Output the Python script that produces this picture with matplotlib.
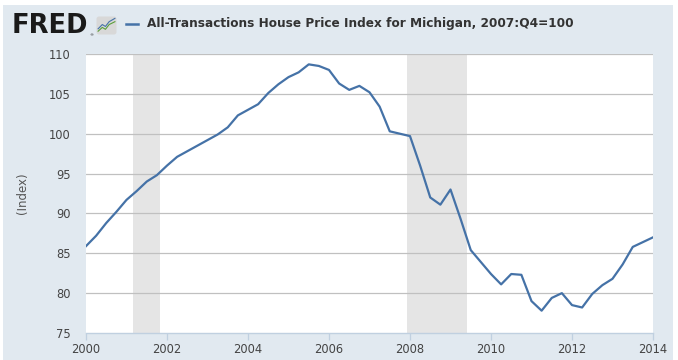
import matplotlib
matplotlib.use("Agg")
import matplotlib.pyplot as plt
from matplotlib.patches import Rectangle, FancyBboxPatch

# quarterly index values, 2000:Q1 .. 2014:Q1
start_year = 2000
values = [85.9, 87.2, 88.8, 90.2,
          91.7, 92.8, 94.0, 94.8,
          96.0, 97.1, 97.8, 98.5,
          99.2, 99.9, 100.8, 102.3,
          103.0, 103.7, 105.1, 106.2,
          107.1, 107.7, 108.7, 108.5,
          108.0, 106.3, 105.5, 106.0,
          105.2, 103.4, 100.3, 100.0,
          99.7, 96.0, 92.0, 91.1,
          93.0, 89.3, 85.4, 83.9,
          82.4, 81.1, 82.4, 82.3,
          79.0, 77.8, 79.4, 80.0,
          78.5, 78.2, 79.9, 81.0,
          81.8, 83.6, 85.8, 86.4,
          87.0]
dates = [start_year + i / 4.0 for i in range(len(values))]

# recessions (decimal years): 2001-03..2001-11, 2007-12..2009-06
recessions = [(2001 + 2/12, 2001 + 10/12), (2007 + 11/12, 2009 + 5/12)]

xticks = [2000, 2002, 2004, 2006, 2008, 2010, 2012, 2014]
yticks = [75, 80, 85, 90, 95, 100, 105, 110]

title = "All-Transactions House Price Index for Michigan, 2007:Q4=100"
ylabel = "(Index)"

bg = "#e1e9f0"
line_col = "#4572a7"

W, H = 678, 360
fig = plt.figure(figsize=(W / 100, H / 100), dpi=100)
fig.patch.set_facecolor("white")
fig.patches.append(Rectangle((3 / W, 0), 670 / W, 355 / H, transform=fig.transFigure,
                             facecolor=bg, edgecolor="none", zorder=-5))

ax = fig.add_axes([86 / W, 1 - 333 / H, (653 - 86) / W, (333 - 54) / H])
ax.set_facecolor("white")

for a, b in recessions:
    ax.axvspan(a, b, color="#e5e5e5", lw=0, zorder=1)

for y in yticks[1:]:
    ax.axhline(y, color="#c0c0c0", lw=0.9, zorder=2)

ax.plot(dates, values, color=line_col, lw=1.6, zorder=3, solid_joinstyle="round")

ax.set_xlim(2000, 2014)
ax.set_ylim(75, 110)
ax.set_xticks(xticks)
ax.set_yticks(yticks)
ax.tick_params(axis="y", length=0, pad=11, labelsize=8.3, labelcolor="#444444")
ax.tick_params(axis="x", length=5, width=0.9, color="#c0d0e0", direction="out",
               pad=2, labelsize=8.3, labelcolor="#444444")
for s in ["left", "right", "top"]:
    ax.spines[s].set_visible(False)
ax.spines["bottom"].set_color("#c0d0e0")
ax.spines["bottom"].set_linewidth(1.0)

fig.text(22 / W, 1 - 193 / H, ylabel, rotation=90, ha="center", va="center",
         fontsize=8.5, color="#555555")

# header: FRED logo, icon, legend
fig.text(12 / W, 1 - 26 / H, "FRED", fontsize=18.5, fontweight="heavy",
         family=["DejaVu Sans"], color="#1a1a1a",
         ha="left", va="center")
fig.text(89 / W, 1 - 35 / H, "®", fontsize=3, color="#1a1a1a", ha="left", va="center")
icon = fig.add_axes([96 / W, 1 - 35 / H, 21 / W, 19 / H])
icon.set_xlim(0, 4)
icon.set_ylim(0, 4)
icon.axis("off")
icon.add_patch(FancyBboxPatch((0.1, 0.1), 3.8, 3.8, boxstyle="round,pad=0,rounding_size=0.5",
                              facecolor="#d8d8d8", edgecolor="none"))
icon_x = [0.4, 1.2, 1.8, 2.5, 3.6]
icon_g = [0.8, 1.6, 1.2, 2.2, 2.8]
icon_b = [1.3, 2.2, 1.8, 2.8, 3.5]
icon.plot(icon_x, icon_g, color="#5a9e3a", lw=0.8)
icon.plot(icon_x, icon_b, color="#4572a7", lw=0.8)

fig.lines.append(plt.Line2D([126 / W, 138 / W], [1 - 24 / H, 1 - 24 / H],
                            transform=fig.transFigure, color=line_col, lw=1.8))
fig.text(147 / W, 1 - 24 / H, title, fontsize=8.7, fontweight="bold",
         family=["DejaVu Sans"], color="#333333",
         ha="left", va="center")

fig.savefig("out.png", dpi=100, facecolor=fig.get_facecolor())
